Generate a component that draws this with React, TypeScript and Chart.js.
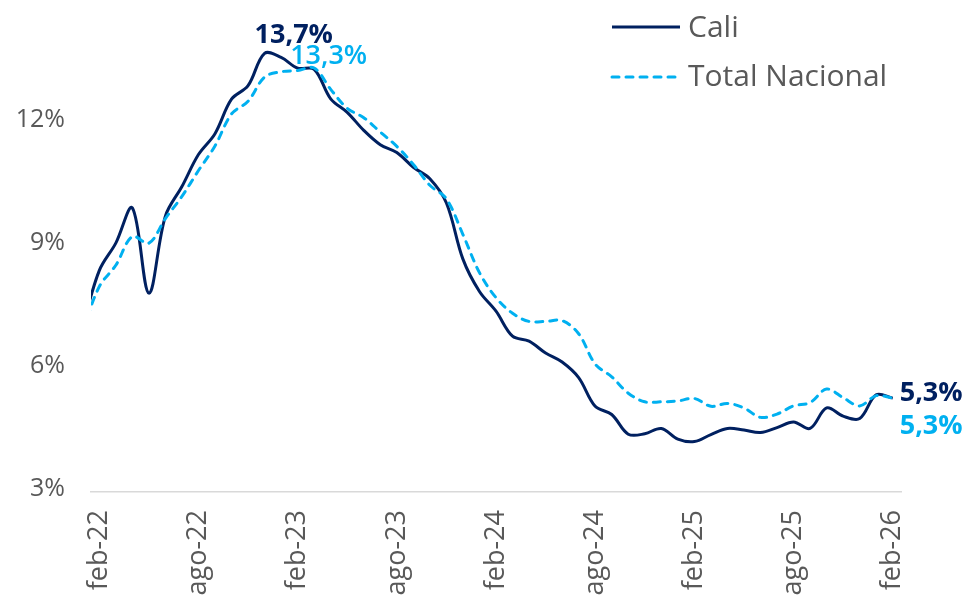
import { useEffect, useRef } from 'react';
import { Chart, registerables } from 'chart.js';

Chart.register(...registerables);

// Monthly categories (first one sits just outside the visible axis range)
const months = [
  'ene-22', 'feb-22', 'mar-22', 'abr-22', 'may-22', 'jun-22', 'jul-22', 'ago-22', 'sep-22', 'oct-22', 'nov-22', 'dic-22',
  'ene-23', 'feb-23', 'mar-23', 'abr-23', 'may-23', 'jun-23', 'jul-23', 'ago-23', 'sep-23', 'oct-23', 'nov-23', 'dic-23',
  'ene-24', 'feb-24', 'mar-24', 'abr-24', 'may-24', 'jun-24', 'jul-24', 'ago-24', 'sep-24', 'oct-24', 'nov-24', 'dic-24',
  'ene-25', 'feb-25', 'mar-25', 'abr-25', 'may-25', 'jun-25', 'jul-25', 'ago-25', 'sep-25', 'oct-25', 'nov-25', 'dic-25',
  'ene-26', 'feb-26',
];

const xTickLabels = ['feb-22', 'ago-22', 'feb-23', 'ago-23', 'feb-24', 'ago-24', 'feb-25', 'ago-25', 'feb-26'];
const yTicks = [3, 6, 9, 12];

const cali = [
  7.05, 8.40, 9.07, 9.93, 7.85, 9.73, 10.45, 11.23, 11.74, 12.58, 12.91, 13.70,
  13.60, 13.34, 13.31, 12.59, 12.26, 11.82, 11.47, 11.28, 10.92, 10.64, 10.05, 8.68,
  7.89, 7.41, 6.80, 6.68, 6.39, 6.17, 5.79, 5.09, 4.89, 4.41, 4.42, 4.55,
  4.29, 4.23, 4.40, 4.55, 4.51, 4.45, 4.57, 4.71, 4.55, 5.05, 4.85, 4.79,
  5.37, 5.29,
];

const nacional = [
  6.94, 8.01, 8.53, 9.23, 9.07, 9.67, 10.21, 10.84, 11.44, 12.22, 12.53, 13.12,
  13.25, 13.28, 13.34, 12.82, 12.36, 12.13, 11.78, 11.43, 10.99, 10.48, 10.15, 9.28,
  8.35, 7.74, 7.36, 7.16, 7.16, 7.18, 6.86, 6.12, 5.81, 5.41, 5.20, 5.20,
  5.22, 5.28, 5.09, 5.16, 5.05, 4.82, 4.90, 5.10, 5.18, 5.51, 5.30, 5.10,
  5.35, 5.29,
];

const seriesNames = ['Cali', 'Total Nacional'];
const NAVY = '#002060';
const LIGHT = '#00B0F0';
const GRAY = '#595959';
const FONT = '"Open Sans", sans-serif';

const firstVisible = months.indexOf('feb-22');
const toPoints = (vals: number[]) => vals.map((v, i) => ({ x: i - firstVisible, y: v }));
const fmt = (v: number) => v.toFixed(1).replace('.', ',') + '%';

const overlayPlugin = {
  id: 'overlay',
  afterDraw(chart: any) {
    const { ctx } = chart;
    const xs = chart.scales.x;
    const ys = chart.scales.y;
    ctx.save();

    // Legend
    const legendRows = [
      { ds: 0, y: 27, base: 37 },
      { ds: 1, y: 77, base: 86 },
    ];
    legendRows.forEach((r) => {
      const ds = chart.data.datasets[r.ds];
      ctx.beginPath();
      ctx.strokeStyle = ds.borderColor;
      ctx.lineWidth = 3;
      ctx.lineCap = ds.borderCapStyle || 'butt';
      ctx.setLineDash(ds.borderDash || []);
      ctx.moveTo(612, r.y);
      ctx.lineTo(680, r.y);
      ctx.stroke();
      ctx.setLineDash([]);
      ctx.fillStyle = GRAY;
      ctx.font = `30px ${FONT}`;
      ctx.textAlign = 'left';
      ctx.textBaseline = 'alphabetic';
      ctx.fillText(ds.label, 688, r.base);
    });

    // Data labels
    const labels = [
      { vals: cali, month: 'dic-22', color: NAVY, weight: 'bold', size: 27, dx: -10, dy: -10 },
      { vals: nacional, month: 'mar-23', color: LIGHT, weight: '600', size: 27, dx: -24, dy: -4 },
      { vals: cali, month: 'feb-26', color: NAVY, weight: 'bold', size: 27, dx: 7, dy: 3 },
      { vals: nacional, month: 'feb-26', color: LIGHT, weight: 'bold', size: 27, dx: 7, dy: 36 },
    ];
    labels.forEach((l) => {
      const i = months.indexOf(l.month);
      const px = xs.getPixelForValue(i - firstVisible);
      const py = ys.getPixelForValue(l.vals[i]);
      ctx.fillStyle = l.color;
      ctx.font = `${l.weight} ${l.size}px ${FONT}`;
      ctx.textAlign = 'left';
      ctx.textBaseline = 'alphabetic';
      ctx.fillText(fmt(l.vals[i]), px + l.dx, py + l.dy);
    });
    ctx.restore();
  },
};

export default function App() {
  const ref = useRef<HTMLCanvasElement | null>(null);

  useEffect(() => {
    if (!ref.current) return;
    const chart = new Chart(ref.current, {
      type: 'line',
      data: {
        datasets: [
          {
            label: seriesNames[0],
            data: toPoints(cali),
            borderColor: NAVY,
            borderWidth: 3,
            pointRadius: 0,
            tension: 0.35,
            fill: false,
            clip: 0,
            order: 1,
          },
          {
            label: seriesNames[1],
            data: toPoints(nacional),
            borderColor: LIGHT,
            borderWidth: 3,
            borderDash: [7, 7],
            borderCapStyle: 'round',
            pointRadius: 0,
            tension: 0.35,
            fill: false,
            clip: 0,
            order: 0,
          },
        ],
      },
      options: {
        animation: false,
        responsive: false,
        maintainAspectRatio: false,
        devicePixelRatio: 1,
        layout: { padding: { top: 34, right: 71, left: 0, bottom: 0 } },
        plugins: {
          legend: { display: false },
          tooltip: { enabled: false },
        },
        scales: {
          x: {
            type: 'linear',
            min: -0.5,
            max: 48.5,
            grid: { display: false, drawTicks: false },
            border: { display: true, color: '#D9D9D9', width: 1.5 },
            afterBuildTicks: (scale: any) => {
              scale.ticks = xTickLabels.map((l) => ({ value: months.indexOf(l) - firstVisible }));
            },
            afterFit: (scale: any) => {
              scale.height = 115;
            },
            ticks: {
              autoSkip: false,
              minRotation: 90,
              maxRotation: 90,
              padding: 18,
              color: GRAY,
              font: { family: FONT, size: 27 },
              callback: (value: any) => months[Number(value) + firstVisible],
            },
          },
          y: {
            min: 3,
            max: 14,
            grid: { display: false, drawTicks: false },
            border: { display: false },
            afterBuildTicks: (scale: any) => {
              scale.ticks = yTicks.map((v) => ({ value: v }));
            },
            afterFit: (scale: any) => {
              scale.width = 91;
            },
            ticks: {
              padding: 26,
              labelOffset: -3,
              color: GRAY,
              font: { family: FONT, size: 25 },
              callback: (value: any) => `${value}%`,
            },
          },
        },
      },
      plugins: [overlayPlugin],
    } as any);
    return () => chart.destroy();
  }, []);

  return (
    <div style={{ position: 'fixed', left: 0, top: 0, width: 972, height: 607, background: '#fff' }}>
      <canvas ref={ref} width={972} height={607} style={{ display: 'block' }} />
    </div>
  );
}
